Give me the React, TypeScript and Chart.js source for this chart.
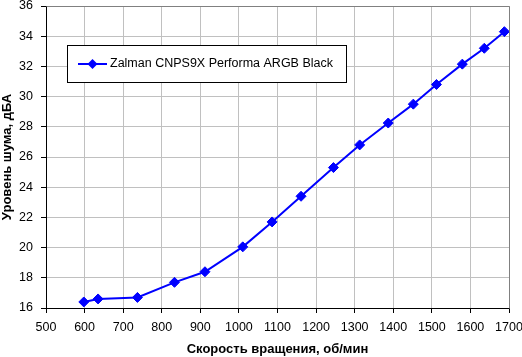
import React, { useEffect, useRef } from "react";
import { Chart, registerables } from "chart.js";

Chart.register(...registerables);

const seriesLabel = "Zalman CNPS9X Performa ARGB Black";
const rpm = [598, 635, 737, 833, 912, 1010, 1086, 1161, 1245, 1313, 1387, 1452, 1512, 1579, 1636, 1688];
const noise = [16.4, 16.6, 16.7, 17.7, 18.4, 20.05, 21.7, 23.4, 25.3, 26.8, 28.25, 29.5, 30.8, 32.15, 33.2, 34.3];
const xTitle = "Скорость вращения, об/мин";
const yTitle = "Уровень шума, дБА";

const FONT = "'Liberation Sans', Arial, sans-serif";
const TICK_FONT = "'Liberation Sans Narrow', 'Arial Narrow', 'Liberation Sans', Arial, sans-serif";

const zeroPad = (s: any) => {
  s.paddingLeft = 0;
  s.paddingRight = 0;
  s.paddingTop = 0;
  s.paddingBottom = 0;
};

const frameAndLegend = {
  id: "frameAndLegend",
  afterDraw(chart: any) {
    const { ctx, chartArea } = chart;
    ctx.save();
    ctx.strokeStyle = "#808080";
    ctx.lineWidth = 1;
    ctx.beginPath();
    ctx.moveTo(Math.round(chartArea.left) + 0.5, Math.round(chartArea.top) + 0.5);
    ctx.lineTo(Math.round(chartArea.right) + 0.5, Math.round(chartArea.top) + 0.5);
    ctx.lineTo(Math.round(chartArea.right) + 0.5, Math.round(chartArea.bottom) + 0.5);
    ctx.stroke();
    const bx = 67, by = 45, bw = 279, bh = 37;
    ctx.fillStyle = "#ffffff";
    ctx.fillRect(bx, by, bw, bh);
    ctx.strokeStyle = "#000000";
    ctx.strokeRect(bx + 0.5, by + 0.5, bw, bh);
    const ds = chart.data.datasets[0];
    const cy = by + bh / 2 + 0.5;
    ctx.strokeStyle = ds.borderColor;
    ctx.lineWidth = 2;
    ctx.beginPath();
    ctx.moveTo(78, cy);
    ctx.lineTo(107, cy);
    ctx.stroke();
    ctx.fillStyle = ds.pointBackgroundColor;
    ctx.beginPath();
    const r = 5;
    ctx.moveTo(92.5, cy - r);
    ctx.lineTo(92.5 + r, cy);
    ctx.lineTo(92.5, cy + r);
    ctx.lineTo(92.5 - r, cy);
    ctx.closePath();
    ctx.fill();
    ctx.fillStyle = "#000000";
    ctx.font = `12.5px ${FONT}`;
    ctx.textBaseline = "middle";
    ctx.textAlign = "left";
    ctx.fillText(ds.label, 110, cy);
    ctx.restore();
  },
};

export default function App() {
  const ref = useRef<HTMLCanvasElement | null>(null);
  useEffect(() => {
    document.body.style.margin = "0";
    if (!ref.current) return;
    const chart = new Chart(ref.current, {
      type: "line",
      data: {
        datasets: [
          {
            label: seriesLabel,
            data: rpm.map((x, i) => ({ x, y: noise[i] })),
            borderColor: "#0000ff",
            backgroundColor: "#0000ff",
            pointBackgroundColor: "#0000ff",
            pointBorderColor: "#0000ff",
            borderWidth: 2,
            pointStyle: "rectRot",
            pointRadius: 5,
            pointBorderWidth: 1,
            tension: 0,
          },
        ],
      },
      options: {
        responsive: false,
        animation: false,
        devicePixelRatio: 1,
        layout: { padding: { top: 5, right: 13, left: 0, bottom: 0 } },
        plugins: { legend: { display: false }, tooltip: { enabled: false } },
        scales: {
          x: {
            type: "linear",
            min: 500,
            max: 1700,
            afterFit: (s: any) => { s.height = 49; zeroPad(s); },
            ticks: { stepSize: 100, color: "#000", font: { family: TICK_FONT, size: 12.5 }, padding: 7, maxRotation: 0, callback: (v: any) => String(v) },
            grid: { color: "#c0c0c0", tickColor: "#000", tickLength: 5 },
            border: { color: "#000", width: 1 },
            title: { display: true, text: xTitle, color: "#000", font: { family: FONT, size: 13, weight: "bold" }, padding: { top: 0, bottom: 0 } },
          },
          y: {
            min: 16,
            max: 36,
            afterFit: (s: any) => { s.width = 46; zeroPad(s); },
            ticks: { stepSize: 2, color: "#000", font: { family: TICK_FONT, size: 12.5 }, padding: 8, callback: (v: any) => String(v) },
            grid: { color: "#c0c0c0", tickColor: "#000", tickLength: 5 },
            border: { color: "#000", width: 1 },
            title: { display: true, text: yTitle, color: "#000", font: { family: FONT, size: 13, weight: "bold" }, padding: { top: 0, bottom: 0 } },
          },
        },
      },
      plugins: [frameAndLegend],
    });
    return () => chart.destroy();
  }, []);
  return (
    <div style={{ width: 522, height: 357 }}>
      <canvas ref={ref} width={522} height={357} style={{ display: "block" }} />
    </div>
  );
}
